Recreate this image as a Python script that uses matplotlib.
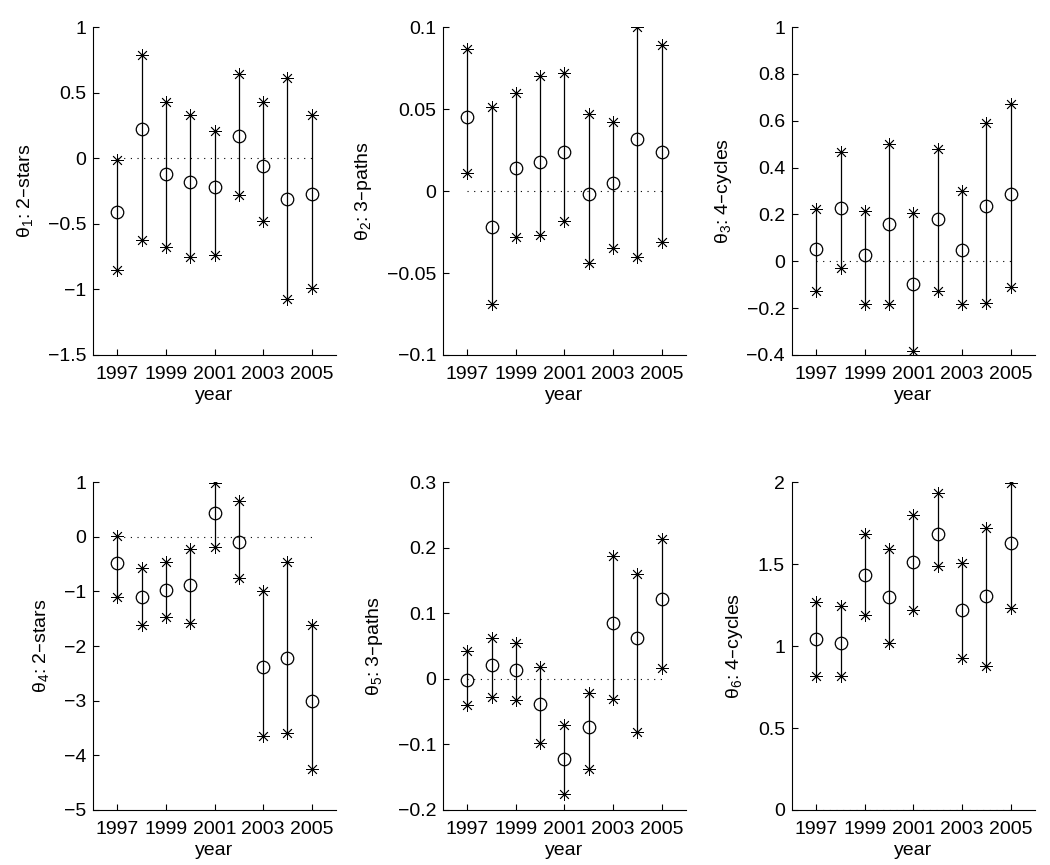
import numpy as np
import matplotlib
matplotlib.use("Agg")
import matplotlib.pyplot as plt

plt.rcParams['font.family'] = ['Liberation Sans', 'DejaVu Sans']
plt.rcParams['mathtext.default'] = 'regular'

years = [1997, 1998, 1999, 2000, 2001, 2002, 2003, 2004, 2005]

# estimate, lower bound, upper bound for each parameter
est1 = [-0.41, 0.22, -0.12, -0.18, -0.22, 0.17, -0.06, -0.31, -0.27]
low1 = [-0.85, -0.62, -0.68, -0.75, -0.74, -0.28, -0.48, -1.07, -0.99]
up1 = [-0.01, 0.79, 0.43, 0.33, 0.21, 0.64, 0.43, 0.61, 0.33]

est2 = [0.045, -0.022, 0.014, 0.018, 0.024, -0.0015, 0.005, 0.032, 0.024]
low2 = [0.011, -0.069, -0.028, -0.027, -0.018, -0.044, -0.035, -0.040, -0.031]
up2 = [0.0865, 0.051, 0.060, 0.070, 0.072, 0.047, 0.042, 0.0998, 0.089]

est3 = [0.051, 0.229, 0.027, 0.161, -0.096, 0.181, 0.049, 0.236, 0.287]
low3 = [-0.127, -0.030, -0.183, -0.183, -0.384, -0.126, -0.181, -0.176, -0.109]
up3 = [0.223, 0.466, 0.214, 0.500, 0.206, 0.481, 0.299, 0.591, 0.673]

est4 = [-0.48, -1.11, -0.98, -0.89, 0.43, -0.09, -2.39, -2.22, -3.00]
low4 = [-1.11, -1.61, -1.47, -1.57, -0.19, -0.75, -3.64, -3.60, -4.25]
up4 = [0.02, -0.58, -0.46, -0.22, 0.99, 0.66, -1.00, -0.46, -1.61]

est5 = [-0.0015, 0.021, 0.013, -0.039, -0.122, -0.073, 0.085, 0.063, 0.122]
low5 = [-0.040, -0.027, -0.032, -0.098, -0.176, -0.137, -0.030, -0.081, 0.016]
up5 = [0.043, 0.063, 0.055, 0.018, -0.070, -0.022, 0.188, 0.160, 0.214]

est6 = [1.045, 1.020, 1.436, 1.297, 1.511, 1.684, 1.220, 1.303, 1.629]
low6 = [0.817, 0.817, 1.191, 1.016, 1.220, 1.491, 0.927, 0.876, 1.232]
up6 = [1.269, 1.244, 1.682, 1.593, 1.800, 1.935, 1.507, 1.721, 1.992]

labels = [r'$\theta_1$: 2–stars', r'$\theta_2$: 3–paths', r'$\theta_3$: 4–cycles',
          r'$\theta_4$: 2–stars', r'$\theta_5$: 3–paths', r'$\theta_6$: 4–cycles']
ylims = [(-1.5, 1), (-0.1, 0.1), (-0.4, 1), (-5, 1), (-0.2, 0.3), (0, 2)]
yticks = [np.arange(-1.5, 1.01, 0.5), [-0.1, -0.05, 0, 0.05, 0.1],
          np.arange(-0.4, 1.01, 0.2), np.arange(-5, 1.01, 1),
          np.arange(-0.2, 0.31, 0.1), np.arange(0, 2.01, 0.5)]
ytlabels = [['-1.5', '-1', '-0.5', '0', '0.5', '1'],
            ['-0.1', '-0.05', '0', '0.05', '0.1'],
            ['-0.4', '-0.2', '0', '0.2', '0.4', '0.6', '0.8', '1'],
            ['-5', '-4', '-3', '-2', '-1', '0', '1'],
            ['-0.2', '-0.1', '0', '0.1', '0.2', '0.3'],
            ['0', '0.5', '1', '1.5', '2']]
ytlabels = [[t.replace('-', '−') for t in row] for row in ytlabels]

ests = [est1, est2, est3, est4, est5, est6]
lows = [low1, low2, low3, low4, low5, low6]
ups = [up1, up2, up3, up4, up5, up6]

fig = plt.figure(figsize=(10.5, 8.65), dpi=100)
lefts = [0.0886, 0.4219, 0.7543]
bottoms = [0.5896, 0.0636]
w, h = 0.2314, 0.379

fs = 14
ast = (8, 2, 0)  # asterisk marker

for i in range(6):
    ax = fig.add_axes([lefts[i % 3], bottoms[i // 3], w, h])
    ax.vlines(years, lows[i], ups[i], color='black', linewidth=0.9)
    ax.plot([1997, 2005], [0, 0], color='black', linestyle=(0, (1, 5)), linewidth=0.8)
    ax.plot(years, ests[i], 'o', markerfacecolor='none', markeredgecolor='black',
            markersize=9, markeredgewidth=0.9)
    ax.plot(years, lows[i], linestyle='none', marker=ast, color='black',
            markersize=9, markeredgewidth=0.6)
    ax.plot(years, ups[i], linestyle='none', marker=ast, color='black',
            markersize=9, markeredgewidth=0.6)

    ax.set_xlim(1996, 2006)
    ax.set_ylim(*ylims[i])
    ax.set_xticks([1997, 1999, 2001, 2003, 2005])
    ax.set_yticks(yticks[i])
    ax.set_yticklabels(ytlabels[i])
    ax.tick_params(direction='in', length=4, width=0.8, labelsize=fs, pad=5)
    ax.tick_params(axis='x', pad=8)
    ax.spines['right'].set_visible(False)
    ax.spines['top'].set_visible(False)
    ax.spines['left'].set_linewidth(0.8)
    ax.spines['bottom'].set_linewidth(0.8)
    ax.set_xlabel('year', fontsize=fs, labelpad=3)
    ax.set_ylabel(labels[i], fontsize=fs, labelpad=9)

plt.savefig("out.png", dpi=100)
